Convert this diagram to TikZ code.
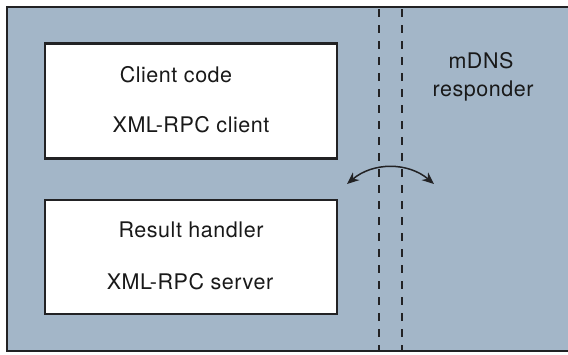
\documentclass[tikz,border=0pt]{standalone}
\usepackage{fontspec}
\setmainfont{TeX Gyre Heros}
\newfontfamily\lblfont[LetterSpace=2.5]{TeX Gyre Heros}
\usetikzlibrary{arrows.meta}
\definecolor{bgblue}{RGB}{163,182,200}
\definecolor{edge}{RGB}{34,34,36}
\begin{document}
\begin{tikzpicture}[x=1pt,y=-1pt,
  box/.style={draw=edge,line width=2.6pt,fill=white,inner sep=0pt},
  lbl/.style={font=\lblfont\fontsize{21.5}{24}\selectfont,text=black!90,inner sep=0pt,anchor=base},
  sep/.style={draw=edge,line width=2.2pt,dash pattern=on 8pt off 8pt},
  swing/.style={draw=edge,line width=1.5pt,{Stealth[length=12pt,width=10pt]}-{Stealth[length=12pt,width=10pt]}}]
\useasboundingbox (0,0) rectangle (568,354);
\path[fill=bgblue,draw=edge,line width=2.6pt] (7,7) rectangle (580,351);
\node[box,minimum width=292pt,minimum height=115pt] (client) at (191,101) {};
\node[box,minimum width=292pt,minimum height=114pt] (server) at (191,257) {};
\node[lbl] (cc) at (176,82) {Client code};
\node[lbl] (xc) at (191,132) {XML-RPC client};
\node[lbl] (rh) at (191,237) {Result handler};
\node[lbl] (xs) at (190,289) {XML-RPC server};
\node[lbl] (mdns) at (481,68) {mDNS};
\node[lbl] (resp) at (483,96) {responder};
\coordinate (d1t) at (379,9);
\coordinate (d1b) at (379,350);
\coordinate (d2t) at (402,9);
\coordinate (d2b) at (402,350);
\draw[sep] (d1t) -- (d1b);
\draw[sep] (d2t) -- (d2b);
\coordinate (aL) at (347,184);
\coordinate (aR) at (434,184);
\draw[swing] (aL) .. controls (373,162) and (408,162) .. (aR);
\end{tikzpicture}
\end{document}
